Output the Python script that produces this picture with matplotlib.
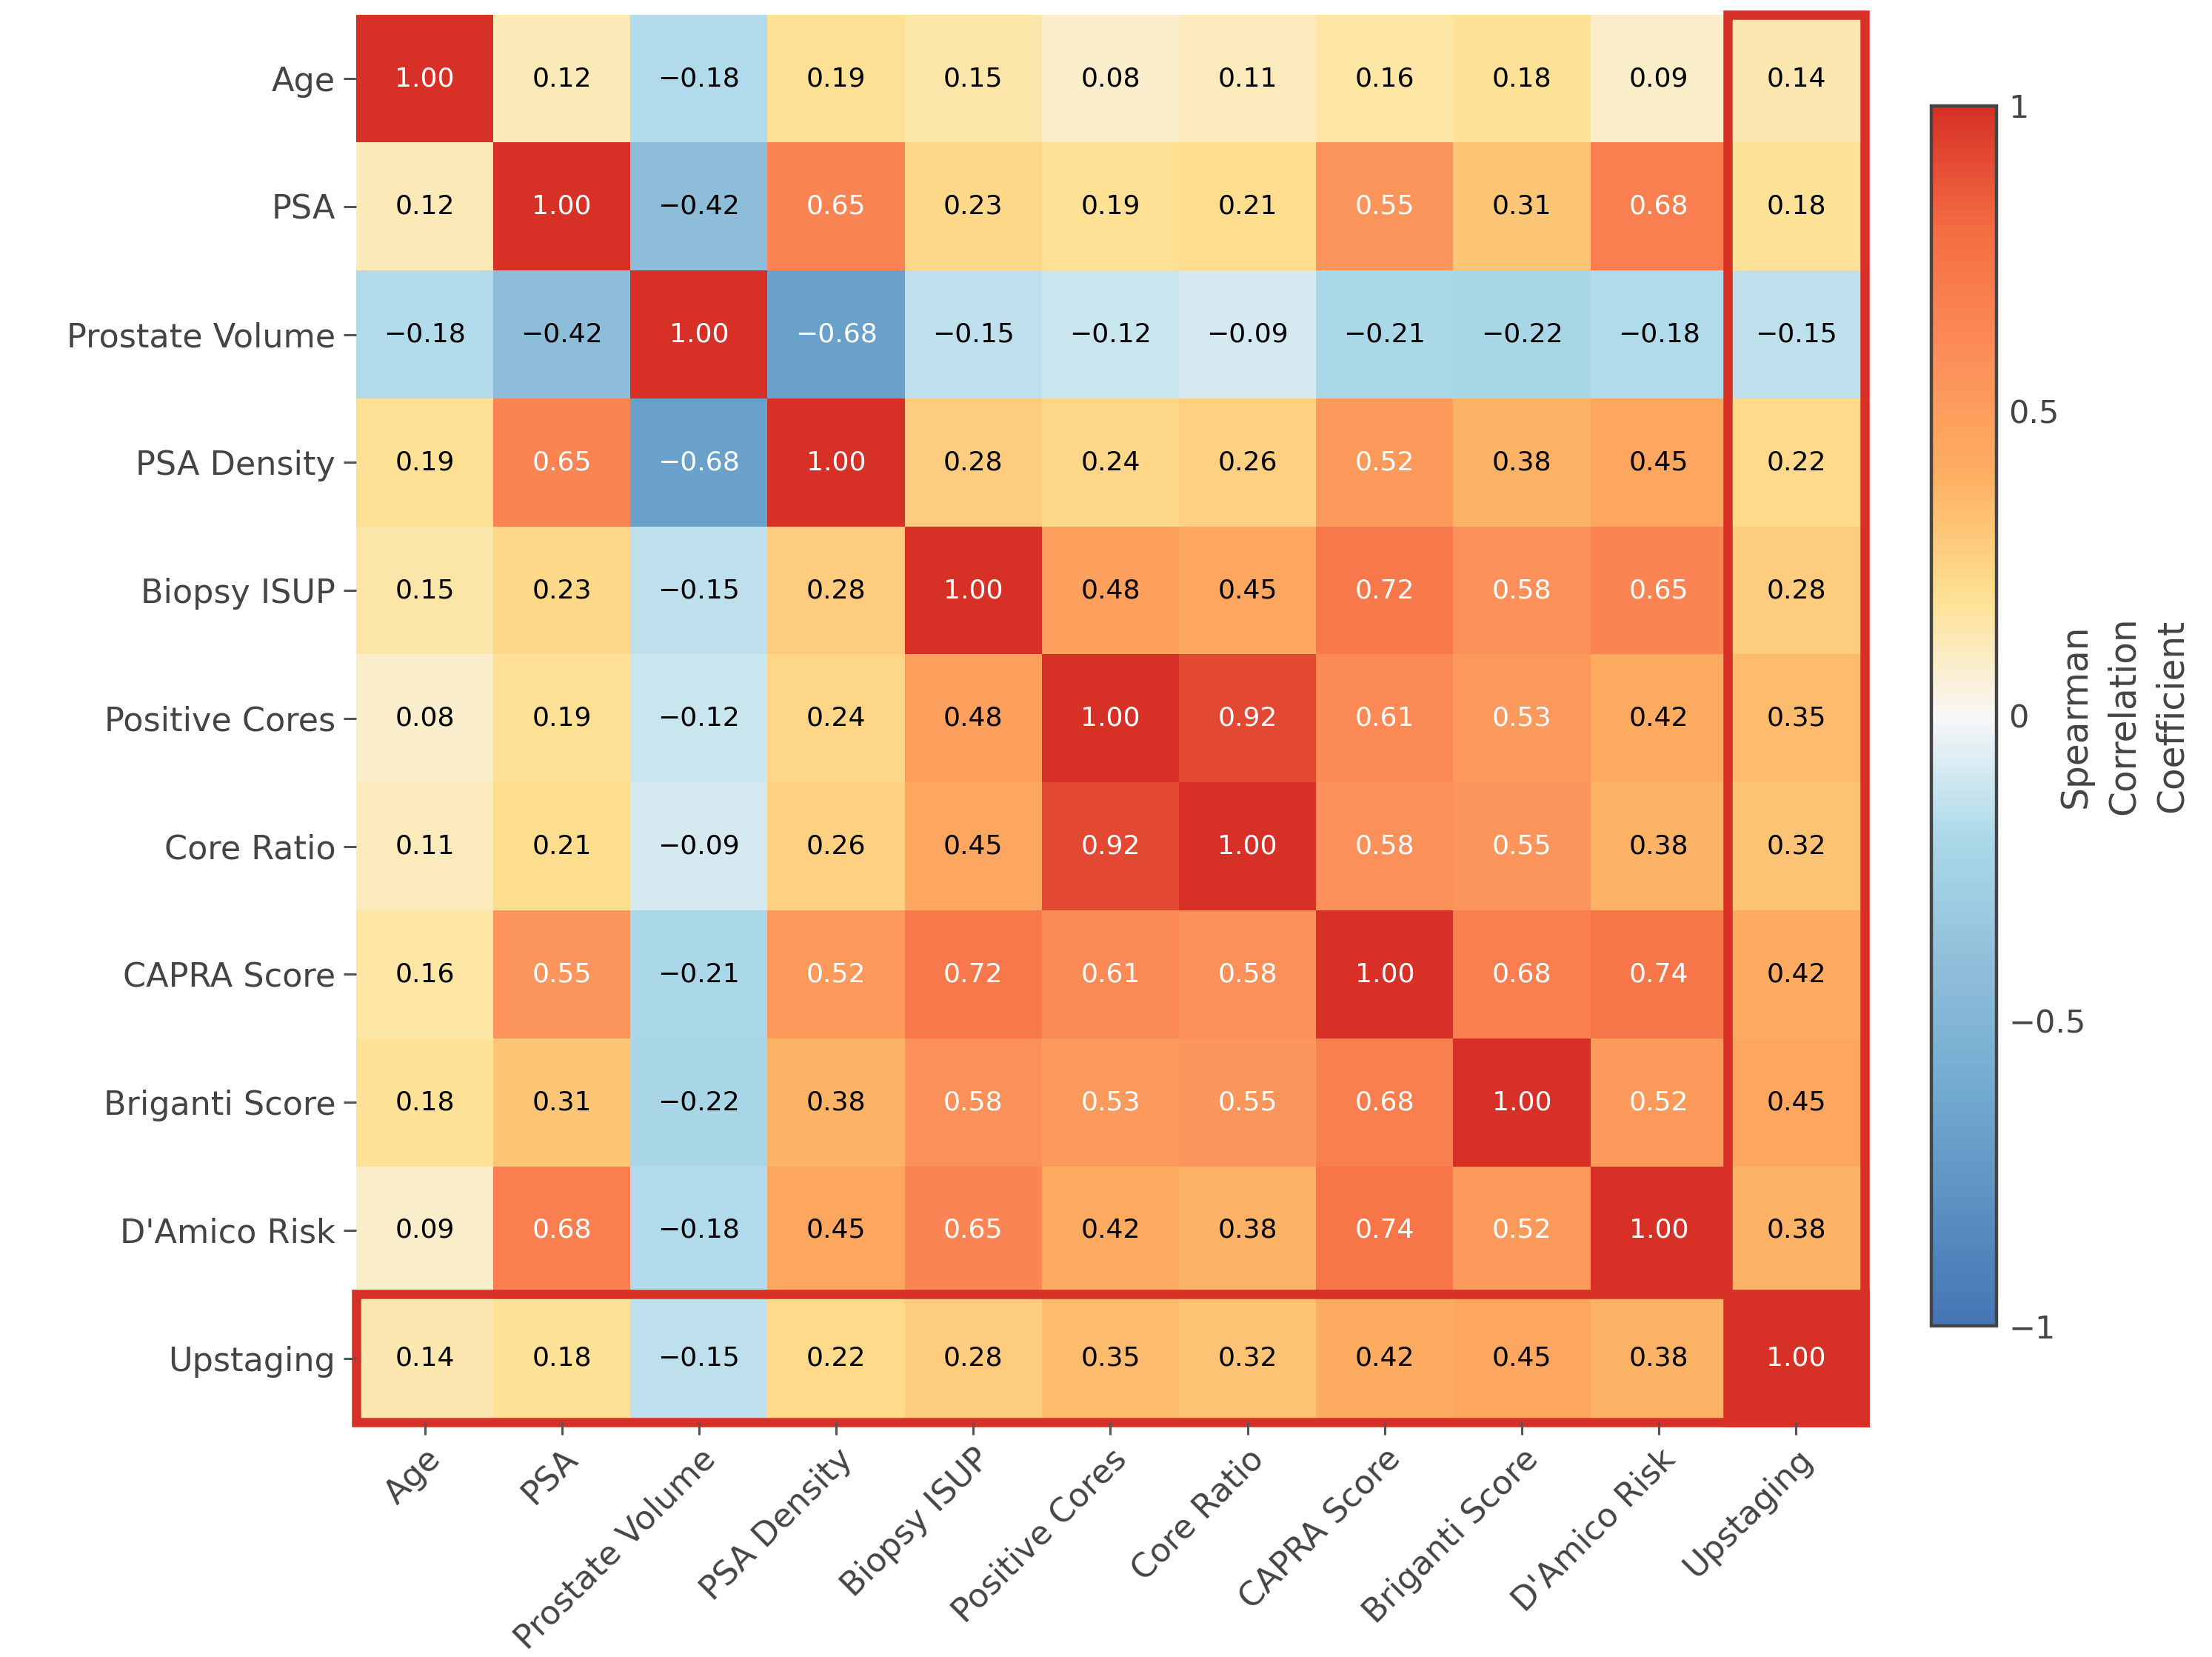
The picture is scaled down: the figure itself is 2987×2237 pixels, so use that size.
import numpy as np
import matplotlib
matplotlib.use("Agg")
import matplotlib.pyplot as plt
from matplotlib.colors import LinearSegmentedColormap
from matplotlib.patches import Rectangle
from matplotlib.ticker import FuncFormatter

# variables (same order on both axes)
labels = ["Age", "PSA", "Prostate Volume", "PSA Density", "Biopsy ISUP",
          "Positive Cores", "Core Ratio", "CAPRA Score", "Briganti Score",
          "D'Amico Risk", "Upstaging"]

# Spearman correlation matrix
corr = np.array([
    [1.00, 0.12, -0.18, 0.19, 0.15, 0.08, 0.11, 0.16, 0.18, 0.09, 0.14],
    [0.12, 1.00, -0.42, 0.65, 0.23, 0.19, 0.21, 0.55, 0.31, 0.68, 0.18],
    [-0.18, -0.42, 1.00, -0.68, -0.15, -0.12, -0.09, -0.21, -0.22, -0.18, -0.15],
    [0.19, 0.65, -0.68, 1.00, 0.28, 0.24, 0.26, 0.52, 0.38, 0.45, 0.22],
    [0.15, 0.23, -0.15, 0.28, 1.00, 0.48, 0.45, 0.72, 0.58, 0.65, 0.28],
    [0.08, 0.19, -0.12, 0.24, 0.48, 1.00, 0.92, 0.61, 0.53, 0.42, 0.35],
    [0.11, 0.21, -0.09, 0.26, 0.45, 0.92, 1.00, 0.58, 0.55, 0.38, 0.32],
    [0.16, 0.55, -0.21, 0.52, 0.72, 0.61, 0.58, 1.00, 0.68, 0.74, 0.42],
    [0.18, 0.31, -0.22, 0.38, 0.58, 0.53, 0.55, 0.68, 1.00, 0.52, 0.45],
    [0.09, 0.68, -0.18, 0.45, 0.65, 0.42, 0.38, 0.74, 0.52, 1.00, 0.38],
    [0.14, 0.18, -0.15, 0.22, 0.28, 0.35, 0.32, 0.42, 0.45, 0.38, 1.00],
])

cbar_ticks = [-1, -0.5, 0, 0.5, 1]

# diverging map, blue -> white -> red
cmap = LinearSegmentedColormap.from_list("rdylbu_w", [
    (0.0, "#4575b4"), (0.2, "#74add1"), (0.3, "#91bfdb"), (0.4, "#abd9e9"),
    (0.5, "#f7f7f7"), (0.6, "#fee090"), (0.7, "#fdae61"), (0.8, "#fc8d59"),
    (0.9, "#f46d43"), (1.0, "#d73027")])

txt_grey = "#444444"
plt.rcParams["font.family"] = "DejaVu Sans"

fig = plt.figure(figsize=(2987 / 200, 2237 / 200), dpi=200)
ax = fig.add_axes([0.161, 0.1417, 0.682, 0.8495])
cax = fig.add_axes([0.873, 0.1998, 0.0295, 0.7363])

n = len(labels)
mesh = ax.pcolormesh(corr, cmap=cmap, vmin=-1, vmax=1)
ax.set_xlim(0, n)
ax.set_ylim(n, 0)

for i in range(n):
    for j in range(n):
        v = corr[i, j]
        s = f"{v:.2f}".replace("-", "\u2212")
        ax.text(j + 0.5, i + 0.5, s, ha="center", va="center",
                fontsize=13, color="white" if abs(v) > 0.5 else "black")

ax.set_xticks(np.arange(n) + 0.5)
ax.set_yticks(np.arange(n) + 0.5)
ax.set_xticklabels(labels, rotation=45, ha="right", rotation_mode="anchor")
ax.set_yticklabels(labels)
ax.tick_params(axis="both", labelsize=16, labelcolor=txt_grey, color="#555555",
               length=6, width=1.1, pad=4)
for sp in ax.spines.values():
    sp.set_visible(False)

# highlight the Upstaging row and column
hl = "#d73027"
ax.add_patch(Rectangle((n - 1, 0), 1, n, fill=False, edgecolor=hl, lw=4.5, clip_on=False))
ax.add_patch(Rectangle((0, n - 1), n, 1, fill=False, edgecolor=hl, lw=4.5, clip_on=False))

cb = fig.colorbar(mesh, cax=cax, ticks=cbar_ticks)
cb.outline.set_edgecolor("#444444")
cb.outline.set_linewidth(1.6)
cb.ax.yaxis.set_major_formatter(FuncFormatter(lambda x, p: f"{x:g}".replace("-", "\u2212")))
cb.ax.tick_params(length=0, labelsize=15.5, labelcolor=txt_grey, pad=6)
cax.text(2.95, 0.5, "Spearman\nCorrelation\nCoefficient", transform=cax.transAxes,
         rotation=90, ha="center", va="center", multialignment="center",
         fontsize=17.5, color=txt_grey, linespacing=1.45)

fig.savefig("out.png", dpi=200)
